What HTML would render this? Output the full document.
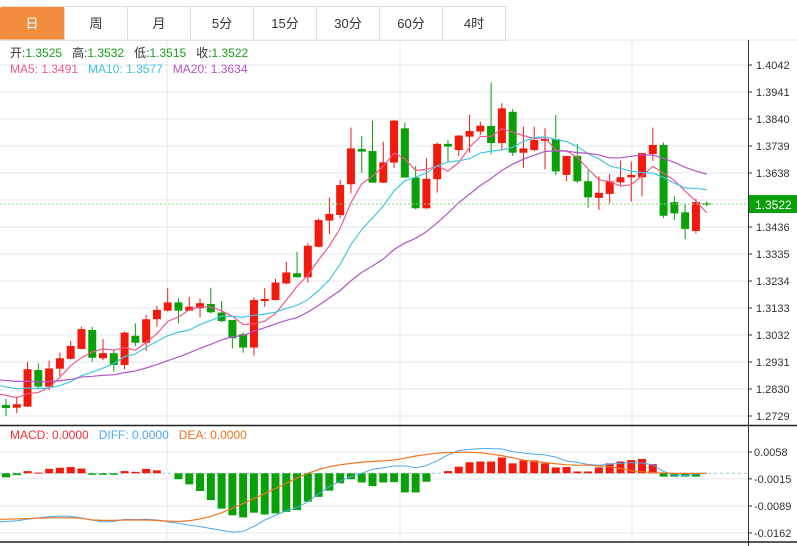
<!DOCTYPE html>
<html><head><meta charset="utf-8"><style>
html,body{margin:0;padding:0;background:#fff;width:797px;height:546px;overflow:hidden;font-family:"Liberation Sans","Noto Sans CJK SC",sans-serif}
#tabs{position:absolute;left:0;top:6px;height:33px;width:507px;display:flex;border-top:1px solid #ddd;border-bottom:1px solid #ddd}
.tab{width:62px;height:33px;line-height:33px;text-align:center;font-size:13px;color:#333;border-right:1px solid #ddd}
.tab.on{background:#f28c3f;color:#fff;width:64px;border-radius:2px}
svg{position:absolute;left:0;top:0}
</style></head><body>
<div id="tabs">
<div class="tab on">日</div>
<div class="tab">周</div>
<div class="tab">月</div>
<div class="tab">5分</div>
<div class="tab">15分</div>
<div class="tab">30分</div>
<div class="tab">60分</div>
<div class="tab">4时</div>
</div>
<svg id="chart" width="797" height="546" style="top:0"></svg>
<script>
const opens=[1.2770,1.2760,1.2764,1.2901,1.2839,1.2906,1.2943,1.2980,1.3051,1.2945,1.2964,1.2920,1.3029,1.3003,1.3091,1.3123,1.3154,1.3123,1.3132,1.3148,1.3116,1.3088,1.3035,1.2985,1.3159,1.3163,1.3225,1.3263,1.3248,1.3362,1.3460,1.3481,1.3596,1.3728,1.3720,1.3602,1.3677,1.3805,1.3621,1.3506,1.3615,1.3747,1.3724,1.3774,1.3793,1.3814,1.3750,1.3867,1.3714,1.3724,1.3758,1.3765,1.3631,1.3702,1.3607,1.3545,1.3560,1.3603,1.3622,1.3622,1.3709,1.3743,1.3529,1.3491,1.3421,1.3525];
const closes=[1.2759,1.2773,1.2904,1.2839,1.2907,1.2945,1.2991,1.3054,1.2947,1.2964,1.2920,1.3041,1.3003,1.3091,1.3126,1.3154,1.3123,1.3138,1.3151,1.3117,1.3084,1.3020,1.2985,1.3163,1.3167,1.3228,1.3266,1.3248,1.3366,1.3462,1.3485,1.3593,1.3730,1.3718,1.3602,1.3678,1.3834,1.3621,1.3506,1.3616,1.3747,1.3737,1.3778,1.3795,1.3815,1.3750,1.3880,1.3714,1.3730,1.3762,1.3765,1.3644,1.3702,1.3607,1.3547,1.3564,1.3607,1.3622,1.3631,1.3712,1.3743,1.3478,1.3487,1.3429,1.3529,1.3522];
const highs=[1.2793,1.2801,1.2932,1.2926,1.2936,1.2966,1.3010,1.3063,1.3063,1.3017,1.2979,1.3045,1.3076,1.3107,1.3141,1.3207,1.3169,1.3174,1.3169,1.3209,1.3159,1.3088,1.3042,1.3173,1.3207,1.3242,1.3306,1.3344,1.3375,1.3468,1.3546,1.3612,1.3808,1.3776,1.3833,1.3755,1.3836,1.3826,1.3664,1.3693,1.3752,1.3762,1.3780,1.3855,1.3830,1.3977,1.3899,1.3877,1.3811,1.3811,1.3805,1.3855,1.3702,1.3747,1.3649,1.3626,1.3634,1.3684,1.3681,1.3714,1.3808,1.3752,1.3552,1.3525,1.3541,1.3532];
const lows=[1.2729,1.2740,1.2763,1.2830,1.2826,1.2879,1.2940,1.2978,1.2932,1.2938,1.2895,1.2904,1.2991,1.2972,1.3063,1.3120,1.3076,1.3122,1.3098,1.3113,1.3080,1.2982,1.2966,1.2955,1.3138,1.3160,1.3222,1.3248,1.3228,1.3359,1.3409,1.3469,1.3562,1.3639,1.3602,1.3600,1.3658,1.3620,1.3502,1.3504,1.3565,1.3677,1.3702,1.3714,1.3780,1.3708,1.3724,1.3702,1.3658,1.3719,1.3652,1.3631,1.3607,1.3601,1.3508,1.3500,1.3525,1.3593,1.3531,1.3550,1.3684,1.3469,1.3462,1.3390,1.3412,1.3515];
const priorCloses=[1.2880,1.2895,1.2890,1.2878,1.2885,1.2892,1.2880,1.2888,1.2884,1.2888,1.2880,1.2876,1.2870,1.2868,1.2870,1.2840,1.2830,1.2815,1.2811];
const priceTicks=[1.4042,1.3941,1.3840,1.3739,1.3638,1.3537,1.3436,1.3335,1.3234,1.3133,1.3032,1.2931,1.2830,1.2729];
const macdHist=[-0.0011,-0.0005,0.0006,0.0002,0.0012,0.0015,0.0017,0.0013,-0.0004,-0.0004,-0.0004,0.0006,0.0004,0.0012,0.0008,0.0000,-0.0016,-0.0030,-0.0048,-0.0073,-0.0096,-0.0114,-0.0120,-0.0107,-0.0112,-0.0109,-0.0105,-0.0100,-0.0077,-0.0064,-0.0047,-0.0027,-0.0016,-0.0025,-0.0035,-0.0025,-0.0024,-0.0052,-0.0052,-0.0023,0.0000,0.0006,0.0018,0.0030,0.0032,0.0032,0.0043,0.0027,0.0035,0.0035,0.0027,0.0016,0.0017,0.0005,0.0005,0.0016,0.0027,0.0032,0.0036,0.0039,0.0025,-0.0009,-0.0009,-0.0009,-0.0009,0.0000];
const diffVals=[-0.0132,-0.0129,-0.0125,-0.0121,-0.0118,-0.0116,-0.0117,-0.0121,-0.0127,-0.0132,-0.0131,-0.0125,-0.0126,-0.0125,-0.0127,-0.0132,-0.0136,-0.0141,-0.0145,-0.0150,-0.0155,-0.0160,-0.0158,-0.0144,-0.0127,-0.0114,-0.0102,-0.0093,-0.0077,-0.0056,-0.0036,-0.0021,-0.0009,0.0000,0.0011,0.0015,0.0020,0.0020,0.0015,0.0021,0.0034,0.0050,0.0062,0.0065,0.0067,0.0067,0.0066,0.0059,0.0055,0.0052,0.0050,0.0044,0.0033,0.0030,0.0024,0.0022,0.0025,0.0027,0.0029,0.0028,0.0023,0.0005,-0.0005,-0.0006,-0.0002,0.0000];
const deaVals=[-0.0125,-0.0124,-0.0123,-0.0122,-0.0121,-0.0121,-0.0121,-0.0122,-0.0127,-0.0128,-0.0128,-0.0127,-0.0127,-0.0127,-0.0128,-0.0130,-0.0131,-0.0129,-0.0124,-0.0117,-0.0107,-0.0095,-0.0082,-0.0069,-0.0055,-0.0041,-0.0027,-0.0013,0.0000,0.0010,0.0018,0.0023,0.0027,0.0030,0.0032,0.0034,0.0036,0.0041,0.0047,0.0051,0.0055,0.0056,0.0057,0.0057,0.0056,0.0052,0.0048,0.0042,0.0036,0.0032,0.0029,0.0026,0.0023,0.0022,0.0022,0.0020,0.0018,0.0013,0.0007,0.0004,0.0002,0.0001,0.0000,0.0000,0.0000,0.0000];
const macdTicks=[0.0058,-0.0015,-0.0089,-0.0162];

const NS='http://www.w3.org/2000/svg';
const svg=document.getElementById('chart');
function mk(tag,attrs,parent){const e=document.createElementNS(NS,tag);for(const k in attrs)e.setAttribute(k,attrs[k]);(parent||svg).appendChild(e);return e;}
const xOf=i=>6+10.78*i;
const yP=v=>416-(v-1.2729)/0.0101*27;
const yM=v=>473.3-v*3680;
const RED='#f2190d',GREEN='#0aa00a';

// grid
for(const t of priceTicks){const y=yP(t);
 const g=mk('line',{x1:0,x2:748,y1:y,y2:y,stroke:'#e3e9ef','stroke-width':1});
 
 mk('line',{x1:748,x2:752,y1:y,y2:y,stroke:'#333'});
 const tx=mk('text',{x:756,y:y+4,'font-size':11,fill:'#333'});tx.textContent=t.toFixed(4);
 }
for(const t of macdTicks){const y=yM(t);
 mk('line',{x1:0,x2:748,y1:y,y2:y,stroke:'#e3e9ef'});
 mk('line',{x1:748,x2:752,y1:y,y2:y,stroke:'#333'});
 const tx=mk('text',{x:754,y:y+4,'font-size':11,fill:'#333'});tx.textContent=t.toFixed(4);
 }
for(const x of [167,400,632]){mk('line',{x1:x,x2:x,y1:40,y2:542,stroke:'#e3e9ef'});}
mk('line',{x1:0,x2:797,y1:40,y2:40,stroke:'#e3e9ef'});
mk('line',{x1:748.5,x2:748.5,y1:40,y2:546,stroke:'#333'});
mk('line',{x1:0,x2:797,y1:425.5,y2:425.5,stroke:'#222','stroke-width':1.5});
mk('line',{x1:0,x2:797,y1:542,y2:542,stroke:'#222','stroke-width':1.5});
mk('line',{x1:0,x2:748,y1:yM(0),y2:yM(0),stroke:'#9cc','stroke-dasharray':'3,3'});

// candles
for(let i=0;i<opens.length;i++){
 const up=closes[i]>=opens[i],c=up?RED:GREEN,x=xOf(i);
 const w=mk('line',{x1:x,x2:x,y1:yP(highs[i]),y2:yP(lows[i]),stroke:c,'stroke-width':1});
 
 const top=yP(Math.max(opens[i],closes[i])),bot=yP(Math.min(opens[i],closes[i]));
 const b=mk('rect',{x:x-4,y:top,width:8,height:Math.max(1.5,bot-top),fill:c});
 
}
// MAs
const all=priorCloses.concat(closes);
function ma(n){const r=[];for(let i=0;i<closes.length;i++){let s=0;const k=i+priorCloses.length;for(let j=k-n+1;j<=k;j++)s+=all[j];r.push(s/n);}return r;}
[[5,'#ef5a8c','ma5-line'],[10,'#45c6e2','ma10-line'],[20,'#b454cc','ma20-line']].forEach(([n,c,nm])=>{
 const m=ma(n);const p=mk('polyline',{points:m.map((v,i)=>(i==0?0:xOf(i))+','+yP(v)).join(' '),fill:'none',stroke:c,'stroke-width':1.2});
 });

// current price
const cp=closes[closes.length-1];
mk('line',{x1:0,x2:748,y1:yP(cp),y2:yP(cp),stroke:'#7fd07f','stroke-dasharray':'2,2'});
const pb=mk('rect',{x:749,y:yP(cp)-9,width:48,height:18,fill:GREEN});

const pt=mk('text',{x:755,y:yP(cp)+5,'font-size':12,fill:'#fff'});pt.textContent=cp.toFixed(4);

// macd
for(let i=0;i<macdHist.length;i++){const v=macdHist[i];if(v===0)continue;
 const y0=yM(0),y1=yM(v);
 const r=mk('rect',{x:xOf(i)-4,y:Math.min(y0,y1),width:8,height:Math.max(1,Math.abs(y1-y0)),fill:v>0?RED:GREEN});
 }
const dl=mk('polyline',{points:diffVals.map((v,i)=>(i==0?0:xOf(i))+','+yM(v)).join(' '),fill:'none',stroke:'#4ea6f0','stroke-width':1});

const el=mk('polyline',{points:deaVals.map((v,i)=>(i==0?0:xOf(i))+','+yM(v)).join(' '),fill:'none',stroke:'#f27420','stroke-width':1.2});


// legends
function tspanLine(y,parts,nm){const t=mk('text',{x:10,y:y,'font-size':12});
 
 parts.forEach(([s,c])=>{const ts=mk('tspan',{fill:c},t);ts.textContent=s;});}
tspanLine(57,[['开:','#333'],['1.3525   ','#1a9e1a'],['高:','#333'],['1.3532   ','#1a9e1a'],['低:','#333'],['1.3515   ','#1a9e1a'],['收:','#333'],['1.3522','#1a9e1a']],'ohlc-legend');
tspanLine(73,[['MA5: 1.3491   ','#ef5a8c'],['MA10: 1.3577   ','#3fc3df'],['MA20: 1.3634','#b454cc']],'ma-legend');
tspanLine(439,[['MACD: 0.0000   ','#f03030'],['DIFF: 0.0000   ','#4ea6f0'],['DEA: 0.0000','#f27420']],'macd-legend');
document.querySelectorAll('#chart text').forEach(t=>t.setAttribute('xml:space','preserve'));
document.querySelectorAll('#chart text').forEach(t=>t.style.whiteSpace='pre');
</script>
</body></html>
